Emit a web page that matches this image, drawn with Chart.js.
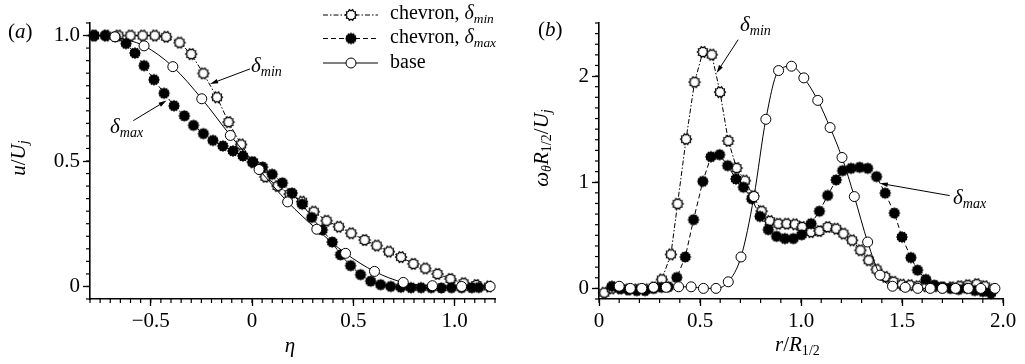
<!DOCTYPE html>
<html><head><meta charset="utf-8">
<script src="https://cdn.jsdelivr.net/npm/chart.js@4/dist/chart.umd.min.js"></script>
<style>
html,body{margin:0;padding:0;background:#fff;}
#wrap{position:relative;width:1025px;height:364px;overflow:hidden;font-family:'Liberation Serif','Times New Roman',serif;color:#000;}
canvas{position:absolute;top:0;}
.t{position:absolute;white-space:nowrap;font-size:21px;line-height:1;}
.rot{transform:translate(-50%,-50%) rotate(-90deg);}
sub{font-size:0.67em;line-height:0;vertical-align:-0.27em;}
.leg{font-size:20px;}
</style></head><body>
<div id="wrap">
<canvas id="ca" width="520" height="364" style="left:0;width:520px;height:364px"></canvas>
<canvas id="cb" width="505" height="364" style="left:520px;width:505px;height:364px"></canvas>
<div class="t" style="left:8px;top:21px">(<i>a</i>)</div>
<div class="t" style="left:538px;top:19px">(<i>b</i>)</div>
<div class="t" style="left:290px;top:335px;transform:translateX(-50%)"><i>η</i></div>
<div class="t" style="left:775px;top:334px"><i>r</i>/<i>R</i><sub>1/2</sub></div>
<div class="t rot" style="left:18px;top:158px"><i>u</i>/<i>U<sub>j</sub></i></div>
<div class="t rot" style="left:541px;top:148px"><i>ω<sub>θ</sub>R</i><sub>1/2</sub>/<i>U<sub>j</sub></i></div>
<div class="t leg" style="left:390px;top:2px">chevron, <i>δ<sub>min</sub></i></div>
<div class="t leg" style="left:390px;top:26px">chevron, <i>δ<sub>max</sub></i></div>
<div class="t leg" style="left:390px;top:50.5px">base</div>
<div class="t" style="left:251px;top:54.5px"><i>δ<sub>min</sub></i></div>
<div class="t" style="left:110px;top:116px"><i>δ<sub>max</sub></i></div>
<div class="t" style="left:740px;top:14px"><i>δ<sub>min</sub></i></div>
<div class="t" style="left:953px;top:187px"><i>δ<sub>max</sub></i></div>
</div>
<script>
// ---------- panel (a) data ----------
const etaMin = [-0.78,-0.72,-0.66,-0.60,-0.54,-0.48,-0.424,-0.358,-0.30,-0.24,-0.173,-0.116,-0.054,0.005,0.066,0.126,0.186,0.247,0.305,0.368,0.429,0.49,0.556,0.616,0.676,0.736,0.797,0.856,0.916,0.98,1.045,1.108,1.17];
const uMin   = [1.0,1.0,1.0,1.0,1.0,1.0,0.995,0.972,0.926,0.849,0.754,0.655,0.566,0.495,0.437,0.40,0.368,0.338,0.298,0.262,0.238,0.212,0.185,0.163,0.139,0.117,0.09,0.072,0.05,0.03,0.013,0.006,0.0];
const etaMax = [-0.78,-0.725,-0.675,-0.622,-0.578,-0.533,-0.484,-0.434,-0.385,-0.334,-0.289,-0.24,-0.193,-0.144,-0.094,-0.045,0.003,0.052,0.10,0.15,0.198,0.248,0.295,0.347,0.396,0.437,0.487,0.536,0.586,0.635,0.685,0.735,0.785,0.835,0.885,0.935,0.985,1.035,1.085,1.12];
const uMax   = [1.0,1.0,0.995,0.968,0.93,0.88,0.824,0.77,0.72,0.68,0.642,0.609,0.582,0.56,0.54,0.52,0.496,0.476,0.447,0.413,0.372,0.328,0.275,0.225,0.177,0.126,0.083,0.047,0.021,0.007,0.0,-0.003,-0.005,-0.005,-0.005,-0.006,-0.005,-0.005,-0.005,-0.004];
const etaBase = [-0.677,-0.533,-0.391,-0.248,-0.107,0.035,0.176,0.32,0.462,0.605,0.747,0.891,1.035,1.176];
const uBase   = [0.995,0.959,0.876,0.748,0.602,0.466,0.337,0.228,0.132,0.06,0.016,0.003,0.0,0.0];

// ---------- panel (b) data ----------
const rMin = [0.026,0.063,0.104,0.145,0.187,0.228,0.27,0.311,0.356,0.389,0.431,0.473,0.514,0.558,0.599,0.64,0.681,0.722,0.764,0.805,0.846,0.888,0.929,0.97,1.006,1.05,1.091,1.132,1.174,1.21,1.253,1.294,1.335,1.374,1.417,1.458,1.5,1.54,1.58,1.62,1.66,1.70,1.745,1.785,1.825,1.87,1.91,1.95];
const wMin = [-0.04,0.0,0.0,-0.01,-0.01,-0.01,0.01,0.084,0.32,0.797,1.406,1.943,2.227,2.202,1.849,1.39,1.134,1.015,0.87,0.727,0.634,0.609,0.609,0.603,0.578,0.53,0.54,0.578,0.562,0.516,0.453,0.359,0.265,0.178,0.109,0.062,0.035,0.03,0.02,0.02,0.02,0.01,0.01,0.02,0.03,0.04,0.02,-0.01];
const rMax = [0.064,0.105,0.146,0.187,0.228,0.27,0.31,0.344,0.385,0.427,0.468,0.514,0.554,0.597,0.637,0.678,0.715,0.756,0.797,0.838,0.879,0.92,0.962,1.003,1.05,1.091,1.132,1.174,1.206,1.248,1.29,1.33,1.374,1.417,1.462,1.5,1.544,1.577,1.618,1.66,1.70,1.74,1.78,1.82,1.86,1.90,1.94];
const wMax = [0.02,0.0,-0.01,-0.02,-0.02,0.0,0.01,0.015,0.103,0.296,0.647,1.008,1.24,1.259,1.156,1.031,0.953,0.844,0.678,0.553,0.49,0.469,0.469,0.505,0.61,0.727,0.875,1.022,1.109,1.131,1.14,1.131,1.053,0.897,0.709,0.484,0.29,0.172,0.084,0.03,0.01,0.0,-0.01,0.0,-0.02,-0.03,-0.047];
const rBase = [0.10,0.155,0.212,0.27,0.333,0.394,0.456,0.517,0.579,0.64,0.703,0.767,0.826,0.889,0.953,1.014,1.083,1.144,1.203,1.264,1.33,1.391,1.453,1.516,1.578,1.64,1.70,1.765,1.828,1.89,1.96];
const wBase = [0.02,0,0,0.01,0.01,0.015,0.015,0,0,0.062,0.296,0.865,1.593,2.052,2.093,1.983,1.771,1.515,1.233,0.865,0.437,0.125,0.02,0.01,0,0,0,0,0,0,0];

// ---------- ticks ----------
const leftXTicks = [-0.5,0,0.5,1.0];
const leftXTickLabels = ['\u22120.5','0','0.5','1.0'];
const leftYTicks = [0,0.5,1.0];
const leftYTickLabels = ['0','0.5','1.0'];
const rightXTicks = [0,0.5,1.0,1.5,2.0];
const rightXTickLabels = ['0','0.5','1.0','1.5','2.0'];
const rightYTicks = [0,1,2];
const rightYTickLabels = ['0','1','2'];

// annotation arrows (data coordinates)
const leftArrows = [{from:[-0.01,0.867],to:[-0.207,0.807]},{from:[-0.586,0.661],to:[-0.422,0.741]}];
const rightArrows = [{from:[0.689,2.343],to:[0.582,2.03]},{from:[1.736,0.874],to:[1.39,0.99]}];

const FONT = "Liberation Serif";
Chart.defaults.font.family = FONT;
const DASH_MIN = [5,2,1.5,2];
const DASH_MAX = [5,3];

function zip(xs, ys){ return xs.map((x,i)=>({x:x, y:ys[i]})); }
function gear(fill, stroke, ro, ri, n, lw){
  const c = document.createElement('canvas'); c.width = 14; c.height = 14;
  const g = c.getContext('2d'); g.beginPath();
  for (let i = 0; i < 2*n; i++){
    const a = Math.PI*i/n, r = (i%2) ? ri : ro;
    const px = 7 + r*Math.cos(a), py = 7 + r*Math.sin(a);
    if (i) g.lineTo(px,py); else g.moveTo(px,py);
  }
  g.closePath(); g.fillStyle = fill; g.fill();
  if (stroke){ g.strokeStyle = stroke; g.lineWidth = lw; g.lineJoin = 'miter'; g.stroke(); }
  return c;
}
const minPt = gear('#fff','#000',5.5,4.3,10,1.3);
const maxPt = gear('#000',null,6,5,12,0);

function axis(min, max, ticks, labels, isX, fit){
  return {
    type:'linear', min:min, max:max,
    afterBuildTicks: s => { s.ticks = ticks.map(v => ({value:v})); },
    afterFit: s => { if (isX) s.height = fit; else s.width = fit; },
    ticks:{autoSkip:false, maxRotation:0, minRotation:0, color:'#000', padding:3,
           font:{family:FONT, size:21}, callback:(v,i)=>labels[i]},
    grid:{display:true, drawOnChartArea:false, drawTicks:true, tickLength:7, tickWidth:1.3, tickColor:'#000'},
    border:{display:true, color:'#000', width:1.6}
  };
}

const minorPlugin = {
  id:'minor',
  afterDraw(chart, args, o){
    const ctx = chart.ctx, xs = chart.scales.x, ys = chart.scales.y;
    ctx.save(); ctx.strokeStyle = '#000'; ctx.lineWidth = 1.2;
    let n = Math.round((o.x[1]-o.x[0])/o.x[2]);
    for (let i = 0; i <= n; i++){
      const p = xs.getPixelForValue(o.x[0] + i*o.x[2]);
      ctx.beginPath(); ctx.moveTo(p, ys.bottom); ctx.lineTo(p, ys.bottom+4); ctx.stroke();
    }
    n = Math.round((o.y[1]-o.y[0])/o.y[2]);
    for (let i = 0; i <= n; i++){
      const p = ys.getPixelForValue(o.y[0] + i*o.y[2]);
      ctx.beginPath(); ctx.moveTo(xs.left, p); ctx.lineTo(xs.left-4, p); ctx.stroke();
    }
    ctx.restore();
  }
};
const arrowPlugin = {
  id:'arrows',
  afterDatasetsDraw(chart, args, o){
    const ctx = chart.ctx, xs = chart.scales.x, ys = chart.scales.y;
    ctx.save(); ctx.strokeStyle = '#000'; ctx.fillStyle = '#000'; ctx.lineWidth = 1;
    (o.list||[]).forEach(a => {
      const x1 = xs.getPixelForValue(a.from[0]), y1 = ys.getPixelForValue(a.from[1]);
      const x2 = xs.getPixelForValue(a.to[0]),   y2 = ys.getPixelForValue(a.to[1]);
      const ang = Math.atan2(y2-y1, x2-x1), c = Math.cos(ang), s = Math.sin(ang);
      ctx.beginPath(); ctx.moveTo(x1,y1); ctx.lineTo(x2-6*c, y2-6*s); ctx.stroke();
      ctx.beginPath(); ctx.moveTo(x2,y2);
      ctx.lineTo(x2-8*c+2.3*s, y2-8*s-2.3*c); ctx.lineTo(x2-8*c-2.3*s, y2-8*s+2.3*c);
      ctx.closePath(); ctx.fill();
    });
    ctx.restore();
  }
};
const legendPlugin = {
  id:'legendRows',
  afterDraw(chart, args, o){
    if (!o.show) return;
    const ctx = chart.ctx;
    const rows = [{y:15, dash:DASH_MIN, img:minPt},{y:38.5, dash:DASH_MAX, img:maxPt},{y:63, dash:[], img:null}];
    ctx.save(); ctx.strokeStyle = '#000'; ctx.lineWidth = 1;
    rows.forEach(r => {
      ctx.setLineDash(r.dash); ctx.beginPath(); ctx.moveTo(323, r.y); ctx.lineTo(378, r.y); ctx.stroke();
      ctx.setLineDash([]);
      if (r.img) ctx.drawImage(r.img, 351-7, r.y-7);
      else { ctx.beginPath(); ctx.arc(351, r.y, 5, 0, 2*Math.PI); ctx.fillStyle='#fff'; ctx.fill(); ctx.stroke(); }
    });
    ctx.restore();
  }
};

function datasets(bx, by, mx, my, nx, ny){
  return [
    {label:'base', data:zip(bx,by), borderColor:'#000', borderWidth:1, pointStyle:'circle', pointRadius:5,
     pointBackgroundColor:'#fff', pointBorderColor:'#000', pointBorderWidth:1, cubicInterpolationMode:'monotone', fill:false, clip:false},
    {label:'chevron max', data:zip(mx,my), borderColor:'#000', borderWidth:1, borderDash:DASH_MAX, pointStyle:maxPt, pointRadius:5, tension:0, fill:false, clip:false},
    {label:'chevron min', data:zip(nx,ny), borderColor:'#000', borderWidth:1, borderDash:DASH_MIN, pointStyle:minPt, pointRadius:5, tension:0, fill:false, clip:false}
  ];
}

Chart.register(minorPlugin, arrowPlugin, legendPlugin);

new Chart(document.getElementById('ca'), {
  type:'line',
  data:{datasets:datasets(etaBase,uBase,etaMax,uMax,etaMin,uMin)},
  options:{
    responsive:false, animation:false, devicePixelRatio:1,
    layout:{padding:{top:23, right:25, left:0, bottom:0}},
    scales:{
      x: axis(-0.8, 1.2, leftXTicks, leftXTickLabels, true, 65),
      y: axis(-0.05, 1.05, leftYTicks, leftYTickLabels, false, 90)
    },
    plugins:{legend:{display:false}, tooltip:{enabled:false},
      minor:{x:[-0.8,1.2,0.05], y:[-0.05,1.05,0.05]},
      arrows:{list:leftArrows}, legendRows:{show:true}}
  }
});

new Chart(document.getElementById('cb'), {
  type:'line',
  data:{datasets:datasets(rBase,wBase,rMax,wMax,rMin,wMin)},
  options:{
    responsive:false, animation:false, devicePixelRatio:1,
    layout:{padding:{top:23, right:22, left:0, bottom:0}},
    scales:{
      x: axis(0, 2.0, rightXTicks, rightXTickLabels, true, 65),
      y: axis(-0.1, 2.5, rightYTicks, rightYTickLabels, false, 79)
    },
    plugins:{legend:{display:false}, tooltip:{enabled:false},
      minor:{x:[0,2.0,0.1], y:[-0.1,2.5,0.1]},
      arrows:{list:rightArrows}, legendRows:{show:false}}
  }
});
</script>
</body></html>
